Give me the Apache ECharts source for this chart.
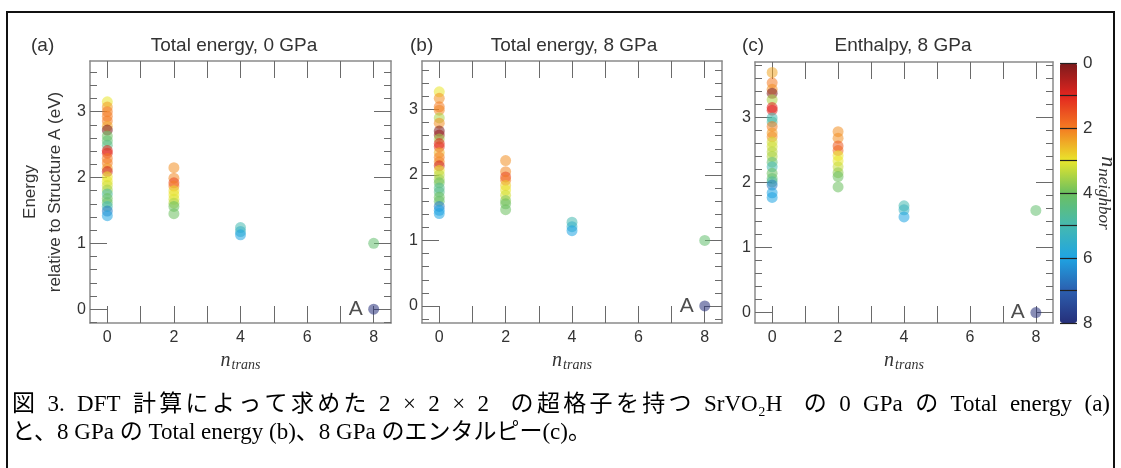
<!DOCTYPE html>
<html>
<head>
<meta charset="utf-8">
<script src="https://cdn.jsdelivr.net/npm/echarts@6/dist/echarts.min.js"></script>
<style>
  html, body { margin: 0; padding: 0; background: #fff; }
  #chart { width: 1121px; height: 468px; }
</style>
</head>
<body>
<div id="chart"></div>
<script>
// ---- data ----
// each column: [energy (eV), n_neighbor]
const aCol0 = [[3.15,3],[3.07,2.3],[3.0,2],[2.93,2],[2.86,2],[2.78,2.4],[2.72,0],[2.63,4],[2.56,4.2],[2.49,4.5],[2.41,1],[2.37,1.1],[2.29,2],[2.22,2],[2.14,2.3],[2.09,0.8],[2.01,3],[1.94,3],[1.88,3.2],[1.81,3.6],[1.75,4.8],[1.68,4],[1.62,4.1],[1.56,5],[1.49,6.6],[1.42,6]];
const aCol2 = [[2.15,2.2],[1.99,2.1],[1.92,1.4],[1.87,2],[1.80,2.9],[1.74,3],[1.67,3.1],[1.61,3.5],[1.56,4],[1.45,4]];
const aCol4 = [[1.24,5],[1.18,5.4],[1.13,6]];
const aCol8 = [[1.0,4.2]];

const bCol0 = [[3.27,3],[3.17,2.2],[3.04,2],[2.99,2.1],[2.87,3.5],[2.79,2.2],[2.67,0],[2.61,0.3],[2.55,3.6],[2.48,1],[2.43,1.2],[2.34,2.5],[2.27,2],[2.2,2.1],[2.14,0.8],[2.07,3],[2.0,3.4],[1.93,3.6],[1.88,4],[1.8,4.6],[1.74,4.5],[1.66,4],[1.6,4.1],[1.52,6.6],[1.46,6],[1.41,6]];
const bCol2 = [[2.22,2.2],[2.05,2.1],[1.97,1.4],[1.92,2],[1.84,2.8],[1.77,3],[1.69,3.2],[1.61,3.8],[1.56,4],[1.47,4]];
const bCol4 = [[1.28,5],[1.21,5.5],[1.15,6]];
const bCol8 = [[1.0,4.2]];

const cCol0 = [[3.69,2.4],[3.53,2],[3.43,2.2],[3.37,0],[3.27,3.5],[3.15,1],[3.11,1],[2.99,5],[2.93,4.8],[2.86,2],[2.76,2.3],[2.7,2.2],[2.62,3.2],[2.55,3.2],[2.47,3.4],[2.4,3.5],[2.31,4.2],[2.24,5],[2.14,4],[2.06,4.2],[2.01,4.8],[1.96,6.6],[1.84,6],[1.77,6]];
const cCol2 = [[2.78,2.2],[2.68,2.2],[2.56,1.6],[2.49,1.8],[2.41,3],[2.33,3],[2.24,3.3],[2.15,3.7],[2.09,4],[1.93,4]];
const cCol4 = [[1.64,5],[1.58,5.3],[1.47,6]];
const cCol8 = [[1.57,4.2]];

// structure A: [n_trans, energy, n_neighbor]
const structA = [8, 0, 8];

const xTicks = [0,1,2,3,4,5,6,7,8];
const xLabels = [0,2,4,6,8];
const yMajor = [0,1,2,3];
const yMinor = [-0.2,0.2,0.4,0.6,0.8,1.2,1.4,1.6,1.8,2.2,2.4,2.6,2.8,3.2,3.4,3.6,3.8];
const cbTicks = [0,1,2,3,4,5,6,7,8];
const cbLabels = [0,2,4,6,8];
// colormap, n_neighbor = 0 ... 8
const nColors = ['#7b1a1c','#e2251f','#f47b22','#e9e52c','#6cc05f','#45b9b0','#1fa4e2','#2c5faf','#262f7a'];

const panelTags = ['(a)','(b)','(c)'];
const panelTitles = ['Total energy, 0 GPa','Total energy, 8 GPa','Enthalpy, 8 GPa'];
const panelCols = [[aCol0,aCol2,aCol4,aCol8],[bCol0,bCol2,bCol4,bCol8],[cCol0,cCol2,cCol4,cCol8]];
const colX = [0,2,4,8];

const caption1 = '図 3. DFT 計算によって求めた 2 × 2 × 2  の超格子を持つ SrVO₂H  の 0 GPa の Total energy (a)';
const caption2 = 'と、8 GPa の Total energy (b)、8 GPa のエンタルピー(c)。';

// layout
const panels = [
  { left: 90,  top: 61, width: 301, height: 262, yMin: -0.21, yMax: 3.77, tagX: 26,  titleX: 229 },
  { left: 422, top: 61, width: 300, height: 262, yMin: -0.26, yMax: 3.74, tagX: 405, titleX: 569 },
  { left: 755, top: 62, width: 298, height: 261, yMin: -0.16, yMax: 3.85, tagX: 737, titleX: 898 }
];

const sans = 'Liberation Sans, Arial, sans-serif';
const serif = 'Liberation Serif, Times New Roman, serif';
const capFont = '"Liberation Serif", "Noto Sans CJK JP", serif';
const capSize = 23;
const axisGray = '#8a8a8a';
const tickGray = '#6a6a6a';

let grid = [], xAxis = [], yAxis = [], series = [], title = [];

panels.forEach(function (p, i) {
  grid.push({ left: p.left, top: p.top, width: p.width, height: p.height });

  let xb = xAxis.length;
  xAxis.push({
    gridIndex: i, type: 'value', position: 'bottom', min: -0.52, max: 8.52,
    axisLine: { onZero: false, lineStyle: { color: axisGray, width: 1.5 } },
    axisTick: { inside: true, length: 17, customValues: xTicks, lineStyle: { color: tickGray } },
    axisLabel: { customValues: xLabels, fontSize: 16, color: '#333', fontFamily: sans, margin: 7 },
    splitLine: { show: false },
    name: '{n|n}{s|trans}', nameLocation: 'middle', nameGap: 26,
    nameTextStyle: {
      rich: {
        n: { fontFamily: serif, fontStyle: 'italic', fontSize: 20, color: '#333' },
        s: { fontFamily: serif, fontStyle: 'italic', fontSize: 14, color: '#333', padding: [9, 0, 0, 1] }
      }
    }
  });
  xAxis.push({
    gridIndex: i, type: 'value', position: 'top', min: -0.52, max: 8.52,
    axisLine: { onZero: false, lineStyle: { color: axisGray, width: 1.5 } },
    axisTick: { inside: true, length: 17, customValues: xTicks, lineStyle: { color: tickGray } },
    axisLabel: { show: false }, splitLine: { show: false }
  });

  let yl = yAxis.length;
  let yName = i === 0 ? {
    name: 'Energy\nrelative to Structure A (eV)', nameLocation: 'middle', nameRotate: 90, nameGap: 22,
    nameTextStyle: { fontSize: 17, lineHeight: 25, color: '#333', fontFamily: sans }
  } : {};
  yAxis.push(Object.assign({
    gridIndex: i, type: 'value', position: 'left', min: p.yMin, max: p.yMax,
    axisLine: { onZero: false, lineStyle: { color: axisGray, width: 1.5 } },
    axisTick: { inside: true, length: 17, customValues: yMajor, lineStyle: { color: tickGray } },
    axisLabel: { customValues: yMajor, fontSize: 16, color: '#333', fontFamily: sans, margin: 4 },
    splitLine: { show: false }
  }, yName));
  yAxis.push({
    gridIndex: i, type: 'value', position: 'left', min: p.yMin, max: p.yMax,
    axisLine: { show: false, onZero: false },
    axisTick: { inside: true, length: 7, customValues: yMinor, lineStyle: { color: tickGray } },
    axisLabel: { show: false }, splitLine: { show: false }
  });
  yAxis.push({
    gridIndex: i, type: 'value', position: 'right', min: p.yMin, max: p.yMax,
    axisLine: { onZero: false, lineStyle: { color: axisGray, width: 1.5 } },
    axisTick: { inside: true, length: 17, customValues: yMajor, lineStyle: { color: tickGray } },
    axisLabel: { show: false }, splitLine: { show: false }
  });
  yAxis.push({
    gridIndex: i, type: 'value', position: 'right', min: p.yMin, max: p.yMax,
    axisLine: { show: false, onZero: false },
    axisTick: { inside: true, length: 7, customValues: yMinor, lineStyle: { color: tickGray } },
    axisLabel: { show: false }, splitLine: { show: false }
  });

  // points: [n_trans, energy, n_neighbor]
  let pts = [];
  panelCols[i].forEach(function (col, k) {
    col.forEach(function (d) { pts.push([colX[k], d[0], d[1]]); });
  });
  pts.push(structA);
  series.push({
    type: 'scatter', xAxisIndex: xb, yAxisIndex: yl, data: pts,
    symbolSize: 11, itemStyle: { opacity: 0.55 }, silent: true
  });
  // the "A" tag next to structure A
  series.push({
    type: 'scatter', xAxisIndex: xb, yAxisIndex: yl, data: [structA],
    symbolSize: 0, silent: true,
    label: {
      show: true, position: 'left', distance: 11, formatter: 'A',
      fontSize: 21, color: '#222', fontFamily: sans
    }
  });

  title.push({ text: panelTags[i], left: p.tagX, top: 31,
    textStyle: { fontSize: 19, fontWeight: 'normal', color: '#333', fontFamily: sans } });
  title.push({ text: panelTitles[i], left: p.titleX, top: 31, textAlign: 'center',
    textStyle: { fontSize: 19, fontWeight: 'normal', color: '#333', fontFamily: sans } });
});

// colorbar axis
grid.push({ left: 1060, top: 63, width: 17, height: 260 });
xAxis.push({ gridIndex: 3, type: 'value', min: 0, max: 1, show: false });
yAxis.push({
  gridIndex: 3, type: 'value', position: 'right', min: 0, max: 8, inverse: true, z: 10,
  axisLine: { show: false, onZero: false },
  axisTick: { inside: true, length: 17, customValues: cbTicks, lineStyle: { color: '#222', width: 1.2 } },
  axisLabel: { customValues: cbLabels, fontSize: 17, color: '#333', fontFamily: sans, margin: 6 },
  splitLine: { show: false }
});

// first caption line is justified to the frame width:
// extra space goes between CJK characters and at spaces, not inside Latin words
const ctx = document.createElement('canvas').getContext('2d');
ctx.font = capSize + 'px ' + capFont;
const chars = Array.from(caption1);
const isLatin = function (c) { return /[A-Za-z0-9.()₂×]/.test(c); };
let slots = [];
for (let k = 1; k < chars.length; k++) {
  slots.push(!(isLatin(chars[k - 1]) && isLatin(chars[k])));
}
const nSlots = slots.filter(Boolean).length;
const natural = ctx.measureText(caption1).width;
const gap = Math.max(0, (1098 - natural) / nSlots);
let caption1Rich = chars[0];
for (let k = 1; k < chars.length; k++) {
  caption1Rich += (slots[k - 1] ? '{g| }' : '') + chars[k];
}

const option = {
  animation: false,
  backgroundColor: '#fff',
  title: title,
  grid: grid,
  xAxis: xAxis,
  yAxis: yAxis,
  visualMap: {
    type: 'continuous', min: 0, max: 8, dimension: 2, inverse: true,
    orient: 'vertical', left: 1060, top: 63, itemWidth: 17, itemHeight: 260,
    padding: 0, calculable: false, text: null, hoverLink: false,
    inRange: { color: nColors }
  },
  series: series,
  graphic: [
    { type: 'rect', shape: { x: 7, y: 12, width: 1107, height: 470 }, silent: true,
      style: { fill: null, stroke: '#111', lineWidth: 2 } },
    { type: 'text', x: 1108, y: 193, rotation: -Math.PI / 2, silent: true,
      style: {
        text: '{n|n}{s|neighbor}', align: 'center', verticalAlign: 'middle',
        rich: {
          n: { fontFamily: serif, fontStyle: 'italic', fontSize: 22, fill: '#333' },
          s: { fontFamily: serif, fontStyle: 'italic', fontSize: 17, fill: '#333', padding: [9, 0, 0, 1] }
        }
      } },
    { type: 'text', left: 12, top: 393, silent: true,
      style: { text: caption1Rich, fontSize: capSize, fill: '#000', fontFamily: capFont,
        rich: { g: { width: gap, fontSize: capSize, fontFamily: capFont } } } },
    { type: 'text', left: 12, top: 421, silent: true,
      style: { text: caption2, fontSize: capSize, fill: '#000', fontFamily: capFont } }
  ]
};

const myChart = echarts.init(document.getElementById('chart'));
myChart.setOption(option);
</script>
</body>
</html>
